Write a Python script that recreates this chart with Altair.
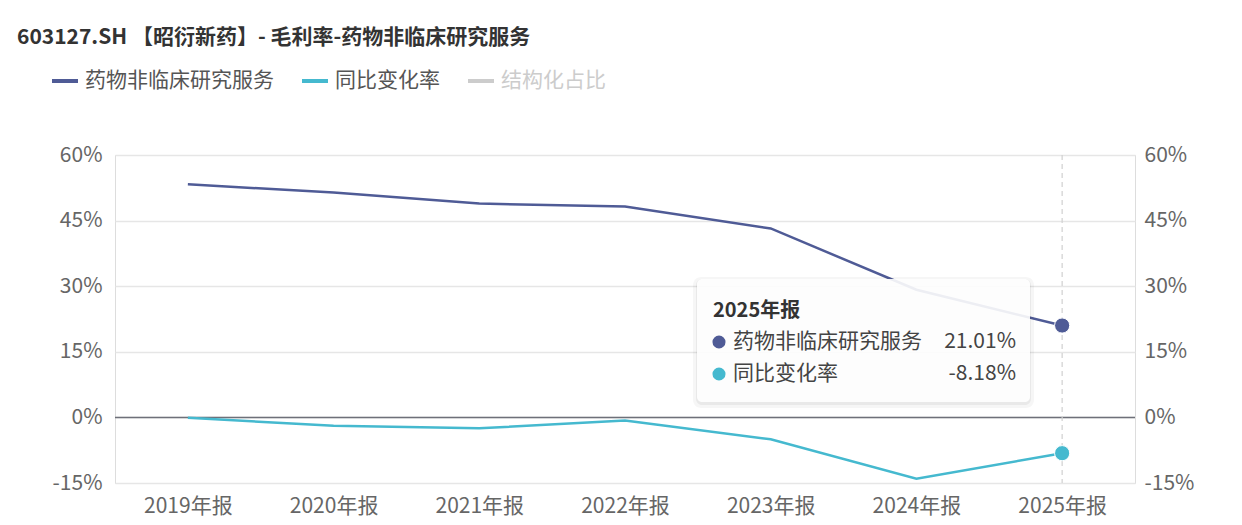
import altair as alt
import pandas as pd

FONT = "Noto Sans CJK SC"

categories = ["2019年报", "2020年报", "2021年报", "2022年报", "2023年报", "2024年报", "2025年报"]
margin_values = [53.3, 51.4, 48.9, 48.2, 43.2, 29.19, 21.01]
yoy_values = [-0.1, -1.9, -2.5, -0.7, -5.0, -14.01, -8.18]
series_names = ["药物非临床研究服务", "同比变化率", "结构化占比"]
series_colors = ["#4f5b96", "#45b9cf", "#cccccc"]
y_ticks = [-15, 0, 15, 30, 45, 60]
title_text = "603127.SH 【昭衍新药】- 毛利率-药物非临床研究服务"

main_df = pd.DataFrame({"cat": categories, "value": margin_values, "series": series_names[0]})
yoy_df = pd.DataFrame({"cat": categories, "value": yoy_values, "series": series_names[1]})
last_cat = categories[-1]

AXIS_FS = 21

x_enc = alt.X("cat:N", sort=categories, scale=alt.Scale(type="point", padding=0.5),
              axis=alt.Axis(title=None, labelAngle=0, labelPadding=12, labelFontSize=AXIS_FS,
                            labelColor="#666666", labelFont=FONT, ticks=False, domain=False))
color_enc = alt.Color("series:N", scale=alt.Scale(domain=series_names, range=series_colors),
                      legend=alt.Legend(title=None, orient="none", legendX=-65, legendY=-89,
                                        direction="horizontal", symbolType="stroke",
                                        symbolSize=676, symbolStrokeWidth=4,
                                        labelFontSize=21, labelFont=FONT, labelOffset=5,
                                        labelLimit=400, columnPadding=20,
                                        labelColor=alt.ExprRef(expr="datum.label === '结构化占比' ? '#cccccc' : '#555555'")))

y_scale = alt.Scale(domain=[-15, 60], nice=False, zero=False)

def y_enc(orient, grid):
    return alt.Y("value:Q", scale=y_scale,
                 axis=alt.Axis(title=None, orient=orient, values=y_ticks, grid=grid,
                               gridColor="#e6e6e6", gridWidth=1.5, labelExpr="datum.value + '%'",
                               labelFontSize=AXIS_FS, labelColor="#666666", labelFont=FONT,
                               labelPadding=13 if orient == "left" else 9,
                               ticks=False, domain=False))

base_main = alt.Chart(main_df)
zero_rule = alt.Chart(pd.DataFrame({"value": [0]})).mark_rule(color="#6e7079", strokeWidth=1.5).encode(
    y=alt.Y("value:Q", scale=y_scale))
dash_rule = alt.Chart(pd.DataFrame({"cat": [last_cat]})).mark_rule(
    color="#d0d0d0", strokeDash=[5, 4], strokeWidth=1.2).encode(x=alt.X("cat:N", sort=categories))
main_line = base_main.mark_line(strokeWidth=2.5).encode(x=x_enc, y=y_enc("left", True), color=color_enc)
main_pt = base_main.transform_filter(alt.datum.cat == last_cat).mark_circle(
    size=230, opacity=1, stroke="white", strokeWidth=1).encode(
    x=alt.X("cat:N", sort=categories), y=alt.Y("value:Q", scale=y_scale),
    color=alt.Color("series:N", scale=alt.Scale(domain=series_names, range=series_colors), legend=None))

left_group = alt.layer(main_line, zero_rule, dash_rule, main_pt)

base_yoy = alt.Chart(yoy_df)
yoy_line = base_yoy.mark_line(strokeWidth=2.5).encode(x=alt.X("cat:N", sort=categories),
                                                       y=y_enc("right", False), color=color_enc)
yoy_pt = base_yoy.transform_filter(alt.datum.cat == last_cat).mark_circle(
    size=230, opacity=1, stroke="white", strokeWidth=1).encode(
    x=alt.X("cat:N", sort=categories), y=alt.Y("value:Q", scale=y_scale),
    color=alt.Color("series:N", scale=alt.Scale(domain=series_names, range=series_colors), legend=None))
right_group = alt.layer(yoy_line, yoy_pt)

# tooltip annotation
tip_df = pd.DataFrame({"t": [0]})
bx0, by0, bx1, by1 = 582, 124, 915, 247
shadow1 = alt.Chart(tip_df).mark_rect(cornerRadius=8, color="#000000", opacity=0.035).encode(
    x=alt.value(bx0 - 4), x2=alt.value(bx1 + 4), y=alt.value(by0 - 2), y2=alt.value(by1 + 6))
shadow2 = alt.Chart(tip_df).mark_rect(cornerRadius=6, color="#000000", opacity=0.05).encode(
    x=alt.value(bx0 - 1), x2=alt.value(bx1 + 1), y=alt.value(by0), y2=alt.value(by1 + 3))
box = alt.Chart(tip_df).mark_rect(cornerRadius=5, color="#ffffff", opacity=0.9).encode(
    x=alt.value(bx0), x2=alt.value(bx1), y=alt.value(by0), y2=alt.value(by1))
tip_title = alt.Chart(pd.DataFrame({"label": [last_cat]})).mark_text(
    align="left", baseline="middle", fontSize=20, fontWeight="bold", font=FONT, color="#333333").encode(
    x=alt.value(598), y=alt.value(156), text="label:N")

tip_rows = pd.DataFrame({
    "series": series_names[:2],
    "val": [f"{margin_values[-1]:.2f}%", f"{yoy_values[-1]:.2f}%"],
    "row": [0, 1],
})
row_y = alt.Y("row:Q", scale=alt.Scale(domain=[0, 1], range=[187, 219]), axis=None)
tip_dots = alt.Chart(tip_rows).mark_circle(size=170, opacity=1).encode(
    x=alt.value(604), y=row_y,
    color=alt.Color("series:N", scale=alt.Scale(domain=series_names, range=series_colors), legend=None))
tip_labels = alt.Chart(tip_rows).mark_text(align="left", baseline="middle", fontSize=21, font=FONT,
                                           color="#444444").encode(
    x=alt.value(618), y=row_y, text="series:N")
tip_vals = alt.Chart(tip_rows).mark_text(align="right", baseline="middle", fontSize=21, font=FONT,
                                         color="#444444").encode(
    x=alt.value(901), y=row_y, text="val:N")
tip_group = alt.layer(shadow1, shadow2, box, tip_title, tip_dots, tip_labels, tip_vals)

chart = alt.layer(left_group, right_group, tip_group).resolve_scale(y="independent").properties(
    width=1020, height=328,
    padding={"left": 107, "top": 147, "right": 99, "bottom": 34},
    autosize=alt.AutoSizeParams(type="none"),
    title=alt.Title(text=title_text, anchor="start", dx=-33, offset=18, fontSize=21,
                    fontWeight="bold", font=FONT, color="#333333"),
).configure_view(stroke=None).configure(background="white")

chart.save("out.html", embed_options={"renderer": "svg", "actions": False})
